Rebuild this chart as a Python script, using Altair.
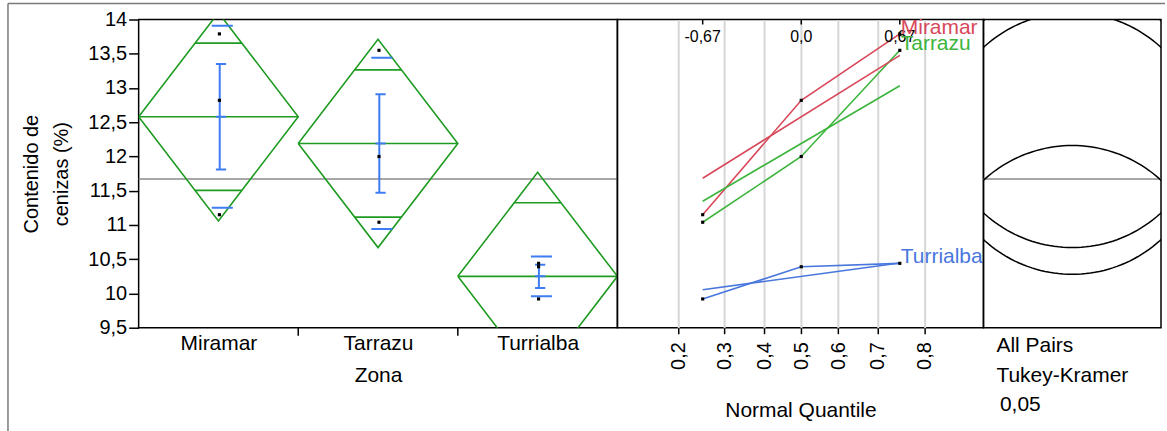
import math
from statistics import NormalDist
import altair as alt
import pandas as pd

# ---------------- values ----------------
zones = ["Miramar", "Tarrazu", "Turrialba"]
values_miramar = [11.15, 12.82, 13.79]
values_tarrazu = [11.04, 12.00, 13.55]
values_turrialba = [9.92, 10.39, 10.44]
zone_means = [12.58, 12.19, 10.25]
zone_std_dev = [1.33, 1.25, 0.29]
zone_std_err = [0.77, 0.72, 0.17]
diamond_half_height = [1.52, 1.52, 1.52]
circle_radius = [1.91, 1.91, 1.91]
grand_mean = 11.67
y_tick_values = [9.5, 10.0, 10.5, 11.0, 11.5, 12.0, 12.5, 13.0, 13.5, 14.0]
prob_tick_values = [0.2, 0.3, 0.4, 0.5, 0.6, 0.7, 0.8]
quantile_probs = [0.25, 0.5, 0.75]
top_quantile_labels = ["-0,67", "0,0", "0,67"]
zone_line_colors = ["#d8485a", "#3db53d", "#4877dd"]
footer_lines = ["All Pairs", "Tukey-Kramer", "0,05"]

# ---------------- styles / layout ----------------
FONT = "Liberation Sans"
GREEN = "#1f9b22"
BLUE = "#3d7cf2"
GRAY = "#8a8a8a"
GRID = "#d6d6d6"
W1, W2, W3, H = 480, 367, 178, 309
Y_MIN, Y_MAX = 9.5, 14.0

all_values = [values_miramar, values_tarrazu, values_turrialba]
nd = NormalDist()

yscale = alt.Scale(domain=[Y_MIN, Y_MAX], nice=False, zero=False)
yaxis1 = alt.Axis(values=y_tick_values, format=".1~f",
                  labelExpr="replace(datum.label, '.', ',')",
                  labelFontSize=20, titleFontSize=20,
                  tickSize=10, tickColor="black", tickWidth=1.5, labelPadding=2,
                  title=["Contenido de", "cenizas (%)"], titlePadding=16,
                  titleLineHeight=30)

# ================= panel 1 : means diamonds =================
xscale1 = alt.Scale(domain=[0, len(zones)], nice=False, zero=False)
label_expr1 = "[" + ",".join("'%s'" % z for z in zones) + "][floor(datum.value)]"
xaxis1 = alt.Axis(values=[i + 0.5 for i in range(len(zones))], labelExpr=label_expr1,
                  ticks=False, tickSize=0, labelPadding=5, title="Zona", titlePadding=11)


def X1(f="x"):
    return alt.X(f + ":Q", scale=xscale1, axis=xaxis1)


def Y1(f="y"):
    return alt.Y(f + ":Q", scale=yscale, axis=yaxis1)


diamond_rows, hline_rows, bar_rows, cap_rows, pt_rows = [], [], [], [], []
for i, z in enumerate(zones):
    m, h = zone_means[i], diamond_half_height[i]
    verts = [(i, m), (i + 0.5, m + h), (i + 1, m), (i + 0.5, m - h), (i, m)]
    for k, (vx, vy) in enumerate(verts):
        diamond_rows.append({"zone": z, "k": k, "x": vx, "y": vy})
    d = h / math.sqrt(2)
    w = 0.5 * (1 - 1 / math.sqrt(2))
    hline_rows.append({"x": i, "x2": i + 1, "y": m})
    hline_rows.append({"x": i + 0.5 - w, "x2": i + 0.5 + w, "y": m + d})
    hline_rows.append({"x": i + 0.5 - w, "x2": i + 0.5 + w, "y": m - d})
    c = i + 0.5
    se, sd = zone_std_err[i], zone_std_dev[i]
    bar_rows.append({"x": c + 0.008, "y": m - se, "y2": m + se})
    for yy in (m - se, m, m + se):
        cap_rows.append({"x": c + 0.016 - 0.032, "x2": c + 0.016 + 0.032, "y": yy})
    for yy in (m - sd, m + sd):
        cap_rows.append({"x": c + 0.024 - 0.066, "x2": c + 0.024 + 0.066, "y": yy})
    for v in all_values[i]:
        pt_rows.append({"x": c + 0.006, "y": v})

p1_grand = alt.Chart(pd.DataFrame({"y": [grand_mean]})).mark_rule(
    color=GRAY, strokeWidth=1.5).encode(y=Y1())
p1_diam = alt.Chart(pd.DataFrame(diamond_rows)).mark_line(
    color=GREEN, strokeWidth=1.6, clip=True).encode(
    x=X1(), y=Y1(), detail="zone:N", order="k:Q")
p1_hl = alt.Chart(pd.DataFrame(hline_rows)).mark_rule(
    color=GREEN, strokeWidth=1.6, clip=True).encode(x=X1(), x2="x2:Q", y=Y1())
p1_bar = alt.Chart(pd.DataFrame(bar_rows)).mark_rule(
    color=BLUE, strokeWidth=2).encode(x=X1(), y=Y1(), y2="y2:Q")
p1_caps = alt.Chart(pd.DataFrame(cap_rows)).mark_rule(
    color=BLUE, strokeWidth=2, clip=True).encode(x=X1(), x2="x2:Q", y=Y1())
p1_pts = alt.Chart(pd.DataFrame(pt_rows)).mark_square(
    size=10, color="black", opacity=1).encode(x=X1(), y=Y1())
p1_sep = alt.Chart(pd.DataFrame({"x": [float(i) for i in range(1, len(zones))]})).mark_rule(
    color="black", strokeWidth=1.5).encode(x=X1(), y=alt.value(H), y2=alt.value(H + 8))
frame = alt.Data(values=[{"a": 1}])
p1_frame_left = alt.Chart(frame).mark_rule(color="#7a7a7a", strokeWidth=1.5).encode(
    x=alt.value(-131), y=alt.value(-16), y2=alt.value(414))
p1_frame_top = alt.Chart(frame).mark_rule(color="#7a7a7a", strokeWidth=1.5).encode(
    x=alt.value(-131), x2=alt.value(1029), y=alt.value(-16))

panel1 = alt.layer(p1_grand, p1_diam, p1_hl, p1_bar, p1_caps, p1_pts, p1_sep,
                   p1_frame_left, p1_frame_top).properties(width=W1, height=H)

# ================= panel 2 : normal quantile plot =================
zq = [nd.inv_cdf(p) for p in quantile_probs]
z_ticks = [nd.inv_cdf(p) for p in prob_tick_values]
xscale2 = alt.Scale(domain=[-1.258, 1.247], nice=False, zero=False)
xaxis2 = alt.Axis(values=z_ticks,
                  labelExpr="replace(format(cumulativeNormal(datum.value), '.1f'), '.', ',')",
                  labelAngle=270, labelFontSize=20, grid=True, gridColor=GRID, gridWidth=2,
                  ticks=True, tickSize=6, tickColor="black", tickWidth=1.5,
                  labelPadding=8, title="Normal Quantile", titlePadding=30)
color2 = alt.Color("zone:N", scale=alt.Scale(domain=zones, range=zone_line_colors), legend=None)


def X2(f="x"):
    return alt.X(f + ":Q", scale=xscale2, axis=xaxis2)


def Y2(f="y"):
    return alt.Y(f + ":Q", scale=yscale, axis=None)


conn_rows, fit_rows, qpt_rows, lab_rows = [], [], [], []
for i, z in enumerate(zones):
    srt = sorted(all_values[i])
    for k, (zz, v) in enumerate(zip(zq, srt)):
        conn_rows.append({"zone": z, "k": k, "x": zz, "y": v})
        qpt_rows.append({"x": zz, "y": v})
    for k, zz in enumerate((zq[0], zq[-1])):
        fit_rows.append({"zone": z, "k": k, "x": zz, "y": zone_means[i] + zone_std_dev[i] * zz})
    lab_rows.append({"zone": z, "x": zq[-1], "y": srt[-1]})

p2_conn = alt.Chart(pd.DataFrame(conn_rows)).mark_line(strokeWidth=1.6).encode(
    x=X2(), y=Y2(), color=color2, detail="zone:N", order="k:Q")
p2_fit = alt.Chart(pd.DataFrame(fit_rows)).mark_line(strokeWidth=1.6).encode(
    x=X2(), y=Y2(), color=color2, detail="zone:N", order="k:Q")
p2_pts = alt.Chart(pd.DataFrame(qpt_rows)).mark_square(
    size=10, color="black", opacity=1).encode(x=X2(), y=Y2())
p2_top_ticks = alt.Chart(pd.DataFrame({"x": zq})).mark_rule(
    color="black", strokeWidth=1.5).encode(x=X2(), y=alt.value(0), y2=alt.value(5))
p2_top_labels = alt.Chart(pd.DataFrame({"x": zq, "t": top_quantile_labels})).mark_text(
    fontSize=16, baseline="alphabetic", align="center", color="black").encode(
    x=X2(), y=alt.value(22.5), text="t:N")
p2_labels = alt.Chart(pd.DataFrame(lab_rows)).mark_text(
    fontSize=21, align="left", baseline="alphabetic", dx=1).encode(
    x=X2(), y=Y2(), text="zone:N", color=color2)

panel2 = alt.layer(p2_conn, p2_fit, p2_pts, p2_top_ticks, p2_top_labels,
                   p2_labels).properties(width=W2, height=H)

# ================= panel 3 : comparison circles =================
half3 = (W3 / 2) / (H / (Y_MAX - Y_MIN))
xscale3 = alt.Scale(domain=[-half3, half3], nice=False, zero=False)
circ_rows = []
for i, z in enumerate(zones):
    for k in range(0, 181):
        t = 2 * math.pi * k / 180
        circ_rows.append({"zone": z, "k": k,
                          "x": circle_radius[i] * math.cos(t),
                          "y": zone_means[i] + circle_radius[i] * math.sin(t)})

p3_circ = alt.Chart(pd.DataFrame(circ_rows)).mark_line(
    color="black", strokeWidth=1.5, clip=True).encode(
    x=alt.X("x:Q", scale=xscale3, axis=None), y=Y2(), detail="zone:N", order="k:Q")
p3_grand = alt.Chart(pd.DataFrame({"y": [grand_mean]})).mark_rule(
    color=GRAY, strokeWidth=1.5).encode(y=Y2())
footer_y = [333.5, 363, 392.5]
footer_x = [13, 13, 16.5]
p3_text = [
    alt.Chart(frame).mark_text(fontSize=21, align="left", baseline="alphabetic",
                               color="black").encode(
        x=alt.value(footer_x[j]), y=alt.value(footer_y[j]), text=alt.value(line))
    for j, line in enumerate(footer_lines)
]
panel3 = alt.layer(p3_grand, p3_circ, *p3_text).properties(width=W3, height=H)

chart = (
    alt.hconcat(panel1, panel2, panel3, spacing=0, bounds="flush")
    .resolve_scale(x="independent", y="independent", color="independent")
    .properties(padding={"left": 6, "top": 1, "right": 0, "bottom": 0},
                background="white")
    .configure(font=FONT)
    .configure_view(stroke="black", strokeWidth=1.5)
    .configure_axis(labelFontSize=21, titleFontSize=21, titleFontWeight="normal",
                    labelColor="black", titleColor="black", domain=False, grid=False)
)

chart.save("out.html", embed_options={"renderer": "svg", "actions": False})
